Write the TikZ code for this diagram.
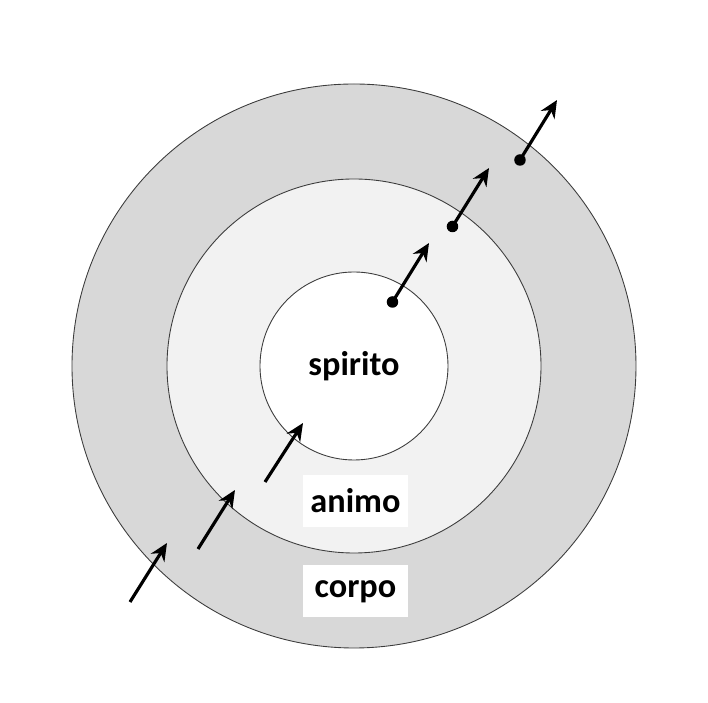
\documentclass[tikz,border=0pt]{standalone}
\usepackage{fontspec}
\setmainfont{Carlito}
\usepackage{tikz}
\usetikzlibrary{arrows.meta, positioning}
\definecolor{ringout}{RGB}{216,216,216}
\definecolor{ringmid}{RGB}{242,242,242}
\definecolor{ringline}{RGB}{60,60,60}

\begin{document}
\begin{tikzpicture}[
    % Styles
    ring/.style={circle, draw=ringline, line width=0.5pt, inner sep=0pt},
    lbl/.style={font=\fontsize{19.5}{23}\selectfont\bfseries, text=black},
    lblbox/.style={lbl, fill=white, minimum width=2.1cm, minimum height=1.04cm, inner sep=0pt},
    dot/.style={circle, fill=black, minimum size=0.23cm, inner sep=0pt},
    arrow/.style={-{Stealth[length=10pt, width=9pt]}, line width=1.8pt, black}
]
\useasboundingbox (-7.08,-6.74) rectangle (7.08,7.32);

% 1. CIRCLES
\node[ring, fill=ringout, minimum size=11.28cm] (corpo) at (0,0) {};
\node[ring, fill=ringmid, minimum size=7.48cm] (animo) at (0,0) {};
\node[ring, fill=white, minimum size=3.76cm] (spirito) at (0,0) {};

% 2. LABELS
\node[lbl] (spirito_lbl) at (0,0) {spirito};
\node[lblbox] (animo_lbl) at (0.03,-2.7) {animo};
\node[lblbox] (corpo_lbl) at (0.03,-4.51) {corpo};

% 3. OUTGOING ARROWS
\node[dot] (out_a) at (0.77,1.28) {};
\node[dot] (out_b) at (1.97,2.79) {};
\node[dot] (out_c) at (3.32,4.12) {};
\coordinate (out_a_end) at (1.50,2.46);
\coordinate (out_b_end) at (2.70,3.96);
\coordinate (out_c_end) at (4.06,5.32);

% 4. INCOMING ARROWS
\coordinate (in_a) at (-4.48,-4.72);
\coordinate (in_b) at (-3.12,-3.66);
\coordinate (in_c) at (-1.78,-2.32);
\coordinate (in_a_end) at (-3.74,-3.54);
\coordinate (in_b_end) at (-2.38,-2.48);
\coordinate (in_c_end) at (-1.02,-1.14);

% CONNECTING ARROWS
\draw[arrow] (out_a.center) -- (out_a_end);
\draw[arrow] (out_b.center) -- (out_b_end);
\draw[arrow] (out_c.center) -- (out_c_end);

\draw[arrow] (in_a) -- (in_a_end);
\draw[arrow] (in_b) -- (in_b_end);
\draw[arrow] (in_c) -- (in_c_end);

\end{tikzpicture}
\end{document}
